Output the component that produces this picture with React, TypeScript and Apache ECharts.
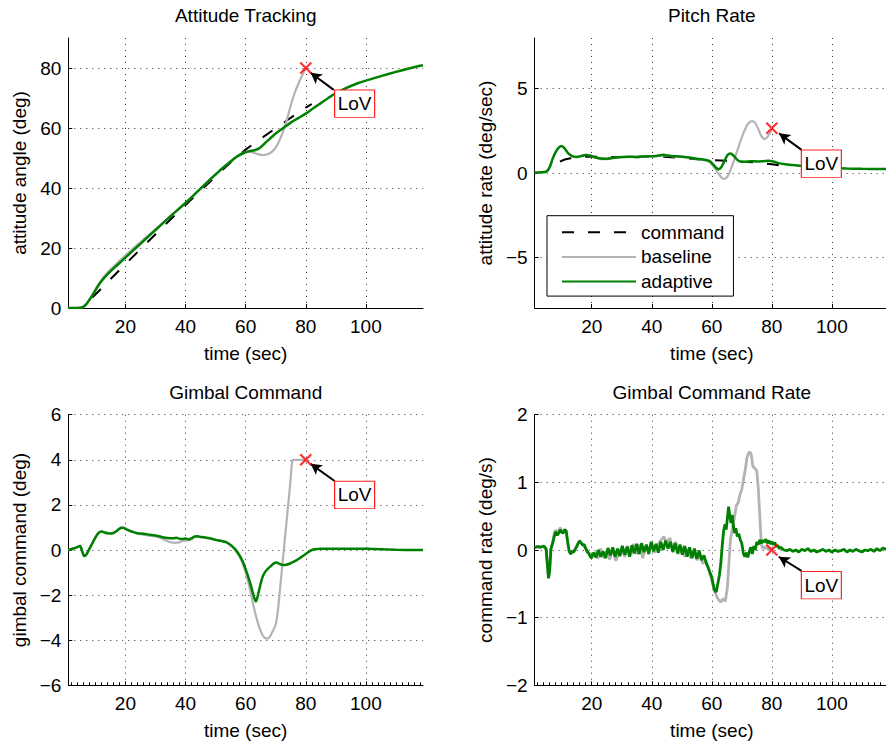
import React, { useEffect, useRef } from 'react';
import * as echarts from 'echarts';

const FONT = "'Liberation Sans', Arial, Helvetica, sans-serif";

// ---- labels ----
const titles = ['Attitude Tracking', 'Pitch Rate', 'Gimbal Command', 'Gimbal Command Rate'];
const yNames = ['attitude angle (deg)', 'attitude rate (deg/sec)', 'gimbal command (deg)', 'command rate (deg/s)'];
const xName = 'time (sec)';
const legendNames = ['command', 'baseline', 'adaptive'];
const lovText = 'LoV';

// ---- tick values ----
const timeTicks = [20, 40, 60, 80, 100];
const attitudeTicks = [0, 20, 40, 60, 80];
const rateTicks = [-5, 0, 5];

type P = [number, number];

// ---- Attitude Tracking ----
const attCommand: P[] = [[9, 3.5], [12, 6.5], [15, 9.6], [20, 14.6], [25, 19.6], [30, 24.6], [35, 29.5], [40, 34.3], [45, 39.1], [50, 43.9], [55, 48.5], [60, 52.8], [65, 56.4], [70, 59.9], [75, 63.4], [80, 66.8], [82, 68]];
const attBaseline: P[] = [[1, 0], [3, 0], [5, 0.1], [6, 0.4], [7, 1.3], [8, 2.7], [9, 4.3], [10, 6.1], [11, 7.8], [12, 9.3], [13, 10.6], [15, 12.8], [17.5, 15.2], [20, 17.5], [22.5, 19.8], [25, 22], [27.5, 24.1], [30, 26.2], [32.5, 28.4], [35, 30.6], [37.5, 32.8], [40, 35], [42.5, 37.4], [45, 39.8], [47.5, 42.2], [50, 44.5], [52.5, 46.8], [55, 48.8], [57, 50.4], [59, 51.6], [61, 52.1], [62.5, 51.8], [64, 51.3], [66, 51], [67.5, 51.3], [69, 52.3], [70.5, 54.3], [72, 57.6], [73.5, 62], [75, 67.5], [76.5, 72.2], [78, 75.8], [79, 77.9], [80, 80]];
const attAdaptive: P[] = [[1, 0], [3, 0], [5, 0.1], [6, 0.4], [7, 1.3], [8, 2.7], [9, 4.2], [10, 5.9], [11, 7.5], [12, 8.9], [13, 10.1], [15, 12.2], [17.5, 14.5], [20, 16.8], [22.5, 19.1], [25, 21.4], [27.5, 23.7], [30, 26], [32.5, 28.3], [35, 30.6], [37.5, 32.8], [40, 35], [42.5, 37.4], [45, 39.8], [47.5, 42.2], [50, 44.5], [52.5, 46.8], [55, 48.8], [57, 50.4], [59, 51.5], [61, 52.2], [63, 52.6], [64.5, 53.2], [66, 54.5], [68, 56.4], [70, 58.2], [72.5, 60], [75, 61.8], [77.5, 63.3], [80, 64.8], [82.5, 66.6], [85, 68.3], [87.5, 70], [90, 71.6], [92.5, 72.9], [95, 74], [97.5, 75], [100, 75.8], [105, 77.3], [110, 78.7], [115, 80], [119, 80.9]];

// ---- Pitch Rate ----
const rateCommand: P[] = [[9.4, 0.67], [11, 0.8], [13, 0.88], [16, 0.95], [19, 0.98], [25, 0.95], [30, 0.95], [35, 0.97], [40, 0.98], [45, 0.95], [50, 0.9], [55, 0.82], [60, 0.76], [65, 0.72], [70, 0.67], [75, 0.62], [80, 0.52], [82.8, 0.45]];
const rateBaseline: P[] = [[1, 0.02], [3, 0.04], [5, 0.1], [6, 0.35], [7, 0.85], [8, 1.25], [9, 1.5], [10, 1.6], [11, 1.45], [12, 1.2], [13, 1.05], [14, 0.98], [15, 0.97], [16.5, 1.02], [18, 1.08], [19.5, 1.05], [21, 0.92], [23, 0.82], [25, 0.82], [27, 0.88], [29, 0.93], [31, 0.95], [33, 0.96], [35, 0.93], [37, 0.97], [39, 1.0], [41, 1.01], [43, 1.04], [45, 1.03], [47, 0.99], [49, 0.97], [51, 0.94], [53, 0.9], [55, 0.85], [57, 0.79], [58.5, 0.72], [60, 0.5], [61.5, 0.15], [63, -0.22], [64.2, -0.35], [65.2, -0.22], [66.3, 0.2], [67.5, 0.8], [69, 1.6], [70.5, 2.35], [72, 2.9], [73.3, 3.08], [74.3, 3.0], [75.5, 2.6], [76.5, 2.2], [77.6, 2.0], [78.6, 2.15], [80, 2.6]];
const rateAdaptive: P[] = [[1, 0.02], [3, 0.04], [5, 0.1], [6, 0.35], [7, 0.85], [8, 1.25], [9, 1.5], [10, 1.6], [11, 1.45], [12, 1.2], [13, 1.05], [14, 0.97], [15, 0.95], [16.5, 1.0], [18, 1.06], [19.5, 1.03], [21, 0.93], [23, 0.86], [25, 0.85], [27, 0.9], [29, 0.94], [31, 0.95], [33, 0.97], [35, 0.95], [37, 0.98], [39, 1.0], [41, 1.0], [43, 1.05], [44, 1.08], [45, 1.04], [47, 1.0], [49, 0.98], [51, 0.95], [53, 0.9], [55, 0.85], [57, 0.8], [58.5, 0.76], [59.5, 0.68], [60.5, 0.5], [61.5, 0.3], [62.3, 0.22], [63.2, 0.35], [64.2, 0.7], [65.2, 1.05], [66.2, 1.15], [67.3, 1.02], [68.5, 0.78], [69.5, 0.68], [71, 0.66], [73, 0.7], [75, 0.68], [77, 0.7], [79, 0.73], [80.5, 0.68], [82, 0.6], [84, 0.53], [87, 0.47], [90, 0.42], [95, 0.35], [100, 0.3], [105, 0.27], [110, 0.25], [115, 0.24], [119, 0.24]];

// ---- Gimbal Command ----
const gimbalBaseline: P[] = [[1, 0], [2, 0.04], [3, 0.08], [4, 0.13], [4.9, 0.18], [5.6, -0.05], [6.3, -0.27], [7, -0.2], [8, 0.05], [9, 0.3], [10, 0.55], [11, 0.75], [12, 0.82], [13, 0.8], [14, 0.76], [15, 0.75], [16, 0.77], [17, 0.85], [18, 0.95], [19, 1.0], [20, 0.97], [21, 0.9], [22.5, 0.8], [24, 0.72], [26, 0.68], [28, 0.64], [30, 0.6], [32, 0.52], [33.5, 0.42], [35, 0.35], [36.5, 0.32], [38, 0.34], [39, 0.4], [40, 0.45], [41, 0.43], [42, 0.48], [43, 0.58], [44, 0.6], [45, 0.57], [46, 0.56], [48, 0.51], [50, 0.45], [52, 0.4], [53.5, 0.34], [55, 0.22], [56, 0.08], [57, -0.08], [58, -0.3], [59, -0.6], [60, -1.0], [61, -1.5], [62, -2.1], [63, -2.7], [64, -3.2], [65, -3.6], [66, -3.85], [67, -3.93], [68, -3.85], [69, -3.6], [70, -3.3], [70.8, -2.6], [71.6, -1.5], [72.4, -0.4], [73.2, 0.7], [74, 1.8], [74.8, 2.9], [75.5, 3.95], [76, 4], [80, 4]];
const gimbalAdaptive: P[] = [[1, 0], [2, 0.04], [3, 0.08], [4, 0.13], [4.9, 0.18], [5.6, -0.05], [6.3, -0.27], [7, -0.2], [8, 0.05], [9, 0.3], [10, 0.55], [11, 0.75], [12, 0.82], [13, 0.78], [14, 0.74], [15, 0.73], [16, 0.75], [17, 0.83], [18, 0.94], [18.8, 0.99], [19.5, 0.97], [20.5, 0.9], [22, 0.82], [24, 0.74], [26, 0.72], [28, 0.68], [30, 0.64], [32, 0.58], [34, 0.53], [36, 0.52], [37, 0.54], [38, 0.5], [39, 0.49], [40, 0.51], [41, 0.47], [42, 0.52], [43, 0.6], [44, 0.61], [45, 0.58], [46, 0.57], [48, 0.52], [50, 0.45], [52, 0.4], [53.5, 0.35], [55, 0.22], [56, 0.1], [57, -0.05], [58, -0.25], [59, -0.5], [60, -0.85], [61, -1.25], [62, -1.7], [62.8, -2.1], [63.4, -2.28], [64, -2.05], [64.8, -1.6], [65.6, -1.2], [66.5, -0.97], [67.5, -0.82], [68.5, -0.7], [69.5, -0.58], [70.3, -0.55], [71.3, -0.62], [72.5, -0.67], [73.6, -0.65], [74.8, -0.6], [76, -0.52], [77, -0.45], [78, -0.36], [79, -0.27], [80, -0.18], [81, -0.08], [82, 0], [83, 0.03], [85, 0.05], [90, 0.06], [95, 0.06], [100, 0.05], [105, 0.03], [110, 0.01], [115, 0.0], [119, 0.0]];

// ---- Gimbal Command Rate ----
const cmdRateBaseline: P[] = [[1, 0.04], [2, 0.05], [3, 0.05], [4, 0.05], [4.8, 0.0], [5.3, -0.28], [5.6, -0.4], [6, -0.28], [6.4, 0.0], [7, 0.12], [7.5, 0.24], [8, 0.3], [8.5, 0.25], [9, 0.28], [9.5, 0.33], [10, 0.28], [10.5, 0.27], [11, 0.31], [11.5, 0.26], [12, 0.1], [12.5, -0.03], [13, -0.05], [14, -0.02], [15, 0.06], [16, 0.14], [17, 0.08], [18, 0.03], [19, -0.04], [20, -0.12], [21, -0.03], [22, -0.13], [23, 0.02], [24, -0.12], [25, -0.02], [26, -0.14], [27, 0.01], [28, -0.16], [29, -0.05], [30, 0.04], [31, -0.1], [32, 0.06], [33, -0.08], [34, 0.09], [35, -0.06], [36, 0.08], [37, -0.12], [38, 0.05], [39, -0.03], [40, 0.11], [41, -0.04], [42, 0.08], [43, 0.14], [44, 0.2], [45, 0.1], [46, 0.18], [47, 0.02], [48, 0.12], [49, -0.06], [50, 0.05], [51, -0.1], [52, 0.02], [53, -0.12], [54, -0.02], [55, -0.15], [56, -0.08], [57, -0.2], [58, -0.15], [59, -0.3], [60, -0.45], [61, -0.62], [62, -0.72], [63, -0.77], [63.8, -0.72], [64.5, -0.76], [65.2, -0.55], [65.7, -0.2], [66.2, 0.15], [67, 0.35], [67.6, 0.5], [68.2, 0.66], [68.8, 0.7], [69.4, 0.82], [70, 0.9], [70.6, 1.05], [71.2, 1.2], [71.7, 1.36], [72.2, 1.43], [72.7, 1.45], [73.2, 1.4], [73.6, 1.25], [74, 1.22], [74.5, 1.2], [75, 1.17], [75.5, 0.9], [76, 0.5], [76.5, 0.08], [77, 0.02], [77.5, 0.05], [78, 0.02], [78.5, 0.04], [79, 0.0], [79.5, 0.02], [80, 0.0]];
const cmdRateAdaptive: P[] = [[1, 0.04], [2, 0.05], [3, 0.04], [4, 0.06], [4.8, 0.02], [5.3, -0.25], [5.6, -0.42], [6, -0.3], [6.4, 0.02], [7, 0.1], [7.5, 0.2], [8, 0.27], [8.5, 0.22], [9, 0.25], [9.5, 0.3], [10, 0.26], [10.5, 0.25], [11, 0.3], [11.5, 0.28], [12, 0.12], [12.5, -0.02], [13, -0.06], [13.5, -0.02], [14, -0.03], [14.5, 0.01], [15, 0.05], [15.5, 0.1], [16, 0.13], [16.5, 0.1], [17, 0.07], [17.5, 0.08], [18, 0.02], [18.5, -0.03], [19, -0.05], [19.8, -0.12], [20.6, -0.04], [21.4, -0.11], [22.2, 0.0], [23, -0.1], [23.8, -0.02], [24.6, -0.12], [25.4, 0.03], [26.2, -0.08], [27, 0.04], [27.8, -0.1], [28.6, 0.02], [29.4, -0.09], [30.2, 0.06], [31, -0.07], [31.8, 0.05], [32.6, -0.1], [33.4, 0.07], [34.2, -0.05], [35, 0.09], [35.8, -0.06], [36.6, 0.1], [37.4, -0.03], [38.2, 0.08], [39, -0.06], [39.8, 0.12], [40.6, -0.02], [41.4, 0.09], [42.2, -0.04], [43, 0.12], [43.8, 0.0], [44.6, 0.14], [45.4, 0.02], [46.2, 0.12], [47, -0.03], [47.8, 0.1], [48.6, -0.05], [49.4, 0.08], [50.2, -0.07], [51, 0.06], [51.8, -0.1], [52.6, 0.04], [53.4, -0.12], [54.2, 0.02], [55, -0.13], [55.8, -0.01], [56.6, -0.15], [57.4, -0.08], [58.2, -0.2], [58.8, -0.26], [59.3, -0.32], [60, -0.4], [60.5, -0.52], [61, -0.6], [61.5, -0.62], [62, -0.5], [62.5, -0.38], [63, -0.2], [63.5, 0.08], [64, 0.3], [64.4, 0.38], [64.8, 0.3], [65.2, 0.48], [65.6, 0.64], [66, 0.5], [66.4, 0.4], [66.8, 0.52], [67.2, 0.35], [67.6, 0.25], [68, 0.32], [68.5, 0.2], [69, 0.24], [69.5, 0.15], [70, 0.1], [70.5, -0.05], [71, -0.1], [71.5, -0.04], [72, -0.11], [72.5, -0.02], [73, 0.04], [73.5, -0.06], [74, 0.06], [74.5, 0.0], [75, 0.12], [75.5, 0.08], [76, 0.15], [76.5, 0.1], [77, 0.14], [77.5, 0.12], [78, 0.16], [78.5, 0.1], [79, 0.14], [79.5, 0.09], [80, 0.12], [80.5, 0.08], [81, 0.11], [81.5, 0.05], [82, 0.07], [82.5, 0.02], [83, 0.04], [84, 0.0], [85, -0.01], [86, 0.01], [87, -0.02], [88, 0.0], [89, -0.03], [90, 0.01], [91, -0.01], [92, 0.02], [93, -0.02], [94, 0.0], [95, -0.03], [96, -0.01], [97, 0.01], [98, -0.02], [99, 0.0], [100, -0.03], [101, 0.0], [102, -0.02], [103, -0.01], [104, 0.01], [105, -0.03], [106, 0.0], [107, -0.02], [108, 0.01], [109, -0.01], [110, -0.03], [111, 0.0], [112, -0.01], [113, 0.01], [114, -0.02], [115, 0.02], [116, -0.01], [117, 0.03], [118, 0.01], [119, 0.04]];

// ---- Loss of vehicle (LoV) annotations, data coordinates ----
const lovTime = 80;
const lovValues = [80, 2.65, 4, 0];
const lovArrowFrom: P[] = [[89.3, 72.7], [89.9, 1.37], [89.6, 3.06], [89.9, -0.31]];
const lovArrowTo: P[] = [[81.6, 78.4], [82.4, 2.35], [81.6, 3.82], [82.3, -0.1]];
const lovBox: P[] = [[96.25, 68.1], [96.5, 0.55], [96.25, 2.44], [96.5, -0.52]];

const commandSets: (P[] | null)[] = [attCommand, rateCommand, null, null];
const baselineSets: P[][] = [attBaseline, rateBaseline, gimbalBaseline, cmdRateBaseline];
const adaptiveSets: P[][] = [attAdaptive, rateAdaptive, gimbalAdaptive, cmdRateAdaptive];

const minusFmt = (v: number) => (v < 0 ? '\u2212' + Math.abs(v) : String(v));

function buildOption() {
  const grids = [
    { left: 68.3, top: 38, width: 354.7, height: 270 },
    { left: 534.7, top: 38, width: 354.2, height: 270 },
    { left: 68.3, top: 414.7, width: 354.7, height: 270.6 },
    { left: 534.7, top: 414.7, width: 354.2, height: 270.6 },
  ];
  const titleCenters = [
    [245.7, 5.5],
    [711.8, 5.5],
    [245.7, 383],
    [711.8, 383],
  ];
  const yCfg: any[] = [
    { min: 0, max: 90, custom: attitudeTicks },
    { min: -8, max: 8, custom: rateTicks },
    { min: -6, max: 6, interval: 2 },
    { min: -2, max: 2, interval: 1 },
  ];
  const text = { color: '#000', fontSize: 19, fontFamily: FONT };
  const gridLine = { show: true, lineStyle: { color: '#333', type: [1, 5], width: 1 } };
  const dash = [12, 14];

  const xAxis = grids.map((_, i) => ({
    type: 'value',
    gridIndex: i,
    min: 1,
    max: 119,
    name: xName,
    nameLocation: 'middle',
    nameGap: 36,
    nameTextStyle: text,
    axisLine: { show: true, onZero: false, lineStyle: { color: '#000', width: 1 } },
    axisTick: { show: true, inside: true, length: 4, customValues: timeTicks, lineStyle: { color: '#000' } },
    axisLabel: { customValues: timeTicks, margin: 9, ...text },
    splitLine: gridLine,
    minorTick: i >= 2 ? { show: true, splitNumber: 10, length: 3, lineStyle: { color: '#000' } } : { show: false },
  }));

  const yAxis = yCfg.map((c, i) => {
    const base: any = {
      type: 'value',
      gridIndex: i,
      min: c.min,
      max: c.max,
      name: yNames[i],
      nameLocation: 'middle',
      nameGap: 39.5,
      nameTextStyle: text,
      axisLine: { show: true, onZero: false, lineStyle: { color: '#000', width: 1 } },
      axisTick: { show: true, inside: true, length: 4, lineStyle: { color: '#000' } },
      axisLabel: { margin: 7, formatter: minusFmt, ...text },
      splitLine: gridLine,
    };
    if (c.custom) {
      base.axisTick.customValues = c.custom;
      base.axisLabel.customValues = c.custom;
    } else {
      base.interval = c.interval;
    }
    return base;
  });

  const series: any[] = [];
  for (let i = 0; i < 4; i++) {
    const cmd = commandSets[i];
    if (cmd) {
      series.push({
        type: 'line', name: legendNames[0], xAxisIndex: i, yAxisIndex: i, data: cmd,
        symbol: 'none', showSymbol: false, z: 2,
        itemStyle: { color: '#000' },
        lineStyle: { color: '#000', width: 2, type: dash },
      });
    }
  }
  for (let i = 0; i < 4; i++) {
    series.push({
      type: 'line', name: legendNames[1], xAxisIndex: i, yAxisIndex: i, data: baselineSets[i],
      symbol: 'none', showSymbol: false, z: 2, smooth: i < 3 ? 0.3 : false,
      itemStyle: { color: '#b3b3b3' },
      lineStyle: { color: '#b3b3b3', width: i === 3 ? 2.8 : 2.2 },
    });
  }
  for (let i = 0; i < 4; i++) {
    series.push({
      type: 'line', name: legendNames[2], xAxisIndex: i, yAxisIndex: i, data: adaptiveSets[i],
      symbol: 'none', showSymbol: false, z: 3, smooth: i < 3 ? 0.3 : false,
      itemStyle: { color: '#008000' },
      lineStyle: { color: '#008000', width: i === 3 ? 2.8 : 2.5 },
    });
  }
  for (let i = 0; i < 4; i++) {
    series.push({
      type: 'scatter', name: 'LoV' + i, xAxisIndex: i, yAxisIndex: i,
      data: [[lovTime, lovValues[i]]],
      symbol: 'path://M0,0L10,10M10,0L0,10', symbolSize: 11, z: 8, silent: true,
      itemStyle: { color: 'none', borderColor: '#ff0000', borderWidth: 2.2 },
      markLine: {
        silent: true, animation: false, z: 6,
        symbol: ['none', 'arrow'], symbolSize: [9, 11],
        label: { show: false },
        lineStyle: { color: '#000', width: 2, type: 'solid' },
        data: [[{ coord: lovArrowFrom[i] }, { coord: lovArrowTo[i] }]],
      },
      markPoint: {
        silent: true, animation: false, z: 7,
        data: [{
          coord: lovBox[i], symbol: 'rect', symbolSize: [40, 27.4],
          itemStyle: { color: '#fff', borderColor: '#ff2020', borderWidth: 1 },
          label: { show: true, position: 'inside', formatter: lovText, ...text },
        }],
      },
    });
  }

  return {
    animation: false,
    backgroundColor: '#fff',
    textStyle: { fontFamily: FONT },
    title: titles.map((t, i) => ({
      text: t, left: titleCenters[i][0], top: titleCenters[i][1], textAlign: 'center', padding: 0,
      textStyle: { ...text, fontWeight: 'normal' },
    })),
    grid: grids.map((g) => ({ ...g, containLabel: false, outerBoundsMode: 'none' })),
    xAxis,
    yAxis,
    legend: {
      data: legendNames,
      left: 547, top: 215.7, orient: 'vertical',
      backgroundColor: '#fff', borderColor: '#000', borderWidth: 1,
      padding: [7, 9, 5, 14], itemWidth: 74, itemHeight: 14, itemGap: 5.7,
      itemStyle: { opacity: 0, borderWidth: 0 },
      textStyle: text, selectedMode: false, z: 10,
    },
    series,
  };
}

export default function App() {
  const ref = useRef<HTMLDivElement>(null);
  useEffect(() => {
    const chart = echarts.init(ref.current!, null, { renderer: 'svg' });
    chart.setOption(buildOption() as any);
    return () => chart.dispose();
  }, []);
  return (
    <div
      ref={ref}
      style={{ position: 'absolute', left: 0, top: 0, width: 886, height: 744, background: '#fff' }}
    />
  );
}
